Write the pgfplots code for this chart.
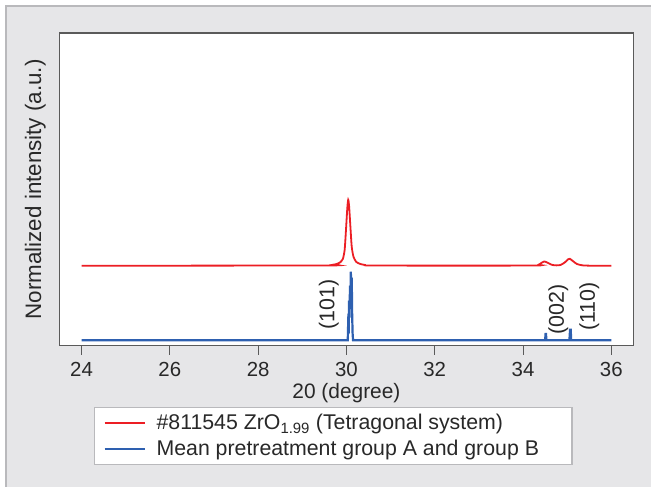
\documentclass[border=0pt]{standalone}
\usepackage{fontspec}
\setmainfont{Liberation Sans}
\usepackage{pgfplots}
\pgfplotsset{compat=1.18}
\definecolor{bgc}{RGB}{230,230,232}
\definecolor{bordc}{RGB}{185,185,188}
\definecolor{redc}{RGB}{236,30,36}
\definecolor{bluec}{RGB}{46,96,176}
\definecolor{txtc}{RGB}{40,40,40}
\definecolor{axc}{RGB}{90,90,90}
\begin{document}
\begin{tikzpicture}
\fill[white] (0,0) rectangle (652bp,-487bp);
\fill[bgc] (6bp,-6bp) rectangle (652bp,-487bp);
\draw[bordc, line width=1.2bp] (6bp,-487bp) -- (6bp,-6bp) -- (652bp,-6bp);
\begin{axis}[
  at={(59.5bp,-346bp)}, anchor=south west,
  scale only axis, width=574.5bp, height=313bp,
  xmin=23.5, xmax=36.5, ymin=0, ymax=313,
  ytick=\empty,
  xtick={24,26,28,30,32,34,36},
  axis background/.style={fill=white},
  axis line style={draw=axc, line width=1.3bp},
  x tick style={draw=axc, line width=1bp},
  xtick align=outside, xtick pos=bottom,
  major tick length=9bp,
  /pgf/number format/assume math mode=true,
  every tick label/.append style={font=\fontsize{20.5}{24}\selectfont, text=txtc},
  xticklabel style={inner sep=0pt, yshift=-7.5bp},
  xlabel={20 (degree)},
  ylabel={Normalized intensity (a.u.)},
  label style={text=txtc},
  xlabel style={font=\fontsize{21}{24}\selectfont, at={(axis description cs:0.5,-0.152)}, anchor=center, inner sep=0pt},
  ylabel style={font=\fontsize{22.5}{26}\selectfont, at={(axis description cs:-0.0418,0.5)}, anchor=center, inner sep=0pt},
  legend style={at={(axis description cs:0.060,-0.195)}, anchor=north west,
    draw=bordc, line width=1.5bp, fill=white,
    font=\fontsize{21.4}{25}\selectfont, text=txtc,
    inner xsep=9bp, inner ysep=5bp, row sep=5bp, column sep=9bp,
    nodes={inner sep=2bp, anchor=west}},
  legend cell align=left,
  legend image code/.code={\draw[#1, line width=2bp] (0bp,0bp) -- (40bp,0bp);},
]
\addplot[redc, line width=1.8bp, smooth, tension=0.4] coordinates {
(24,80) (29.5,80.3) (29.68,80.9) (29.78,81.8) (29.86,83.5) (29.92,87) (29.96,96)
(29.99,116) (30.02,138) (30.04,146) (30.06,140) (30.09,119) (30.12,99)
(30.16,89) (30.22,84) (30.3,82) (30.42,80.8) (30.7,80.2) (34.2,80.2)
(34.35,81) (34.42,83) (34.48,84.3) (34.55,83.2) (34.65,81) (34.75,80.4)
(34.85,80.8) (34.95,83.5) (35.02,86.5) (35.06,87) (35.12,85) (35.22,81.8)
(35.35,80.4) (35.6,80) (36,80)
};
\addlegendentry{\makebox[405bp][l]{\#811545 ZrO\textsubscript{1.99} (Tetragonal system)}}
\addplot[bluec, line width=2.2bp] coordinates {
(24,5.5) (30.03,5.5) (30.045,32) (30.05,12) (30.06,45) (30.07,28) (30.08,60)
(30.09,40) (30.1,74) (30.11,52) (30.12,68) (30.13,30) (30.14,12) (30.15,5.5)
(34.5,5.5) (34.51,11.7) (34.52,11.7) (34.53,5.5)
(35.05,5.5) (35.065,16) (35.08,16) (35.09,5.5) (36,5.5)
};
\addlegendentry{\makebox[405bp][l]{Mean pretreatment group A and group B}}
\node[rotate=90, font=\fontsize{21.5}{24}\selectfont, text=txtc] at (axis cs:29.6,41) {(101)};
\node[rotate=90, font=\fontsize{21.5}{24}\selectfont, text=txtc] at (axis cs:34.8,36) {(002)};
\node[rotate=90, font=\fontsize{21.5}{24}\selectfont, text=txtc] at (axis cs:35.5,39) {(110)};
\end{axis}
\end{tikzpicture}
\end{document}
